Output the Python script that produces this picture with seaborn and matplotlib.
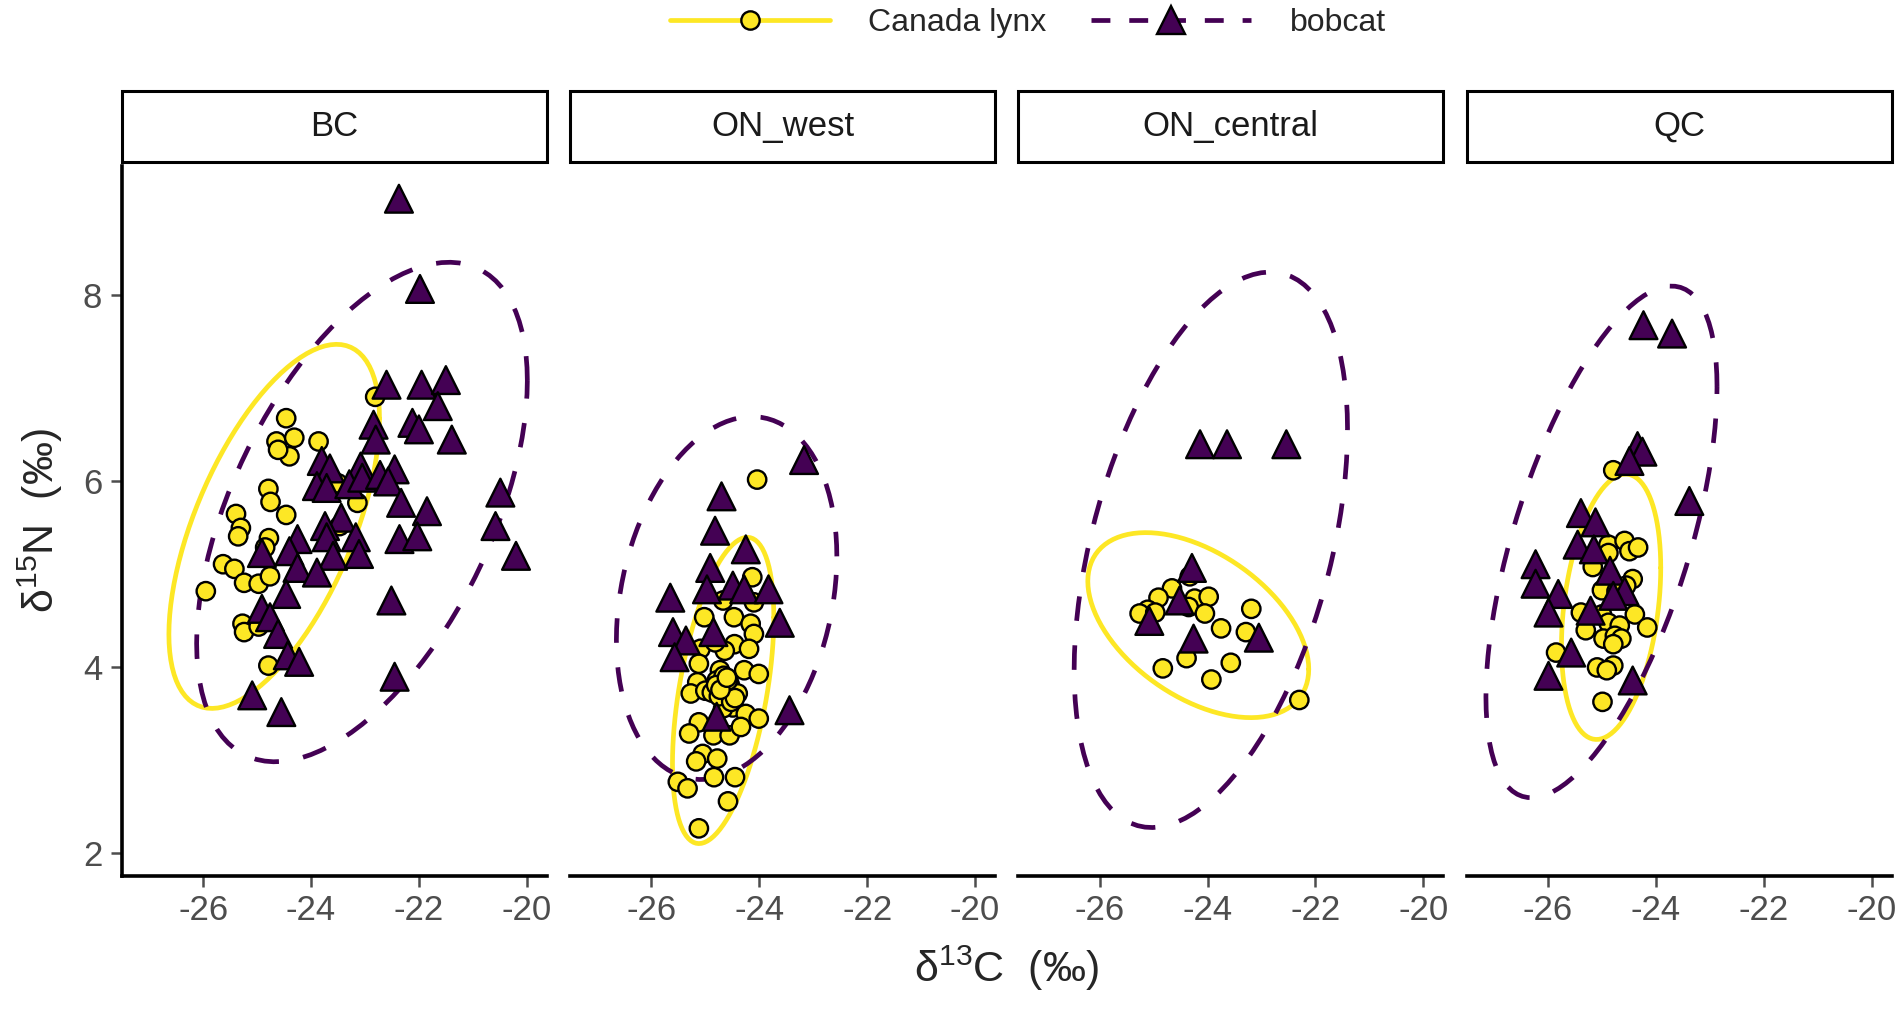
import numpy as np
import pandas as pd
import matplotlib
matplotlib.use('Agg')
import matplotlib.pyplot as plt
from matplotlib.lines import Line2D
from matplotlib.patches import Rectangle
import seaborn as sns

# ─── Data ───────────────────────────────────────────────────
REGIONS = ['BC', 'ON_west', 'ON_central', 'QC']
SPECIES = ['Canada lynx', 'bobcat']

bc_lynx_d13c = [-22.81, -24.46, -24.64, -24.31, -24.40, -23.86, -24.61, -24.79, -24.75, -24.46,
                -25.39, -25.30, -25.35, -24.78, -24.85, -23.14, -23.47, -25.63, -25.42, -25.24,
                -24.97, -24.76, -25.95, -25.27, -25.24, -24.97, -24.79, -23.50]
bc_lynx_d15n = [6.90, 6.67, 6.42, 6.46, 6.26, 6.42, 6.33, 5.91, 5.77, 5.63,
                5.64, 5.49, 5.40, 5.38, 5.28, 5.76, 5.51, 5.10, 5.05, 4.90,
                4.89, 4.97, 4.81, 4.46, 4.37, 4.43, 4.01, 5.97]
bc_bob_d13c = [-22.37, -21.98, -22.60, -21.95, -21.50, -21.65, -22.84, -22.12, -22.00, -21.39,
               -22.80, -23.80, -23.65, -23.89, -23.71, -23.08, -23.29, -23.05, -22.72, -22.45,
               -22.57, -22.33, -21.85, -23.44, -23.74, -23.71, -23.17, -24.25, -23.59, -23.11,
               -24.40, -24.91, -22.36, -22.03, -24.25, -23.89, -24.46, -24.91, -24.76, -24.61,
               -22.51, -24.43, -24.22, -22.45, -25.09, -24.55, -20.49, -20.58, -20.20]
bc_bob_d15n = [9.03, 8.06, 7.03, 7.03, 7.08, 6.80, 6.60, 6.62, 6.55, 6.44,
               6.44, 6.21, 6.13, 5.94, 5.92, 6.15, 5.96, 6.03, 6.06, 6.12,
               5.99, 5.76, 5.67, 5.60, 5.51, 5.39, 5.39, 5.37, 5.19, 5.21,
               5.24, 5.22, 5.37, 5.40, 5.06, 5.01, 4.78, 4.62, 4.53, 4.35,
               4.71, 4.12, 4.05, 3.89, 3.69, 3.51, 5.87, 5.51, 5.19]

onw_lynx_d13c = [-24.04, -24.13, -24.67, -24.10, -25.02, -24.47, -24.16, -24.10, -24.46, -24.64,
                 -24.19, -25.09, -24.82, -25.12, -24.73, -24.28, -24.01, -25.15, -25.27, -25.00,
                 -24.79, -24.55, -24.40, -24.64, -24.88, -24.49, -24.25, -24.01, -24.67, -25.12,
                 -25.30, -24.85, -24.55, -24.34, -25.05, -25.17, -24.78, -24.84, -24.45, -25.51,
                 -25.33, -24.58, -25.12, -24.70, -24.62, -24.75, -24.58, -24.52, -24.66, -24.45,
                 -24.80, -24.72, -24.60]
onw_lynx_d15n = [6.01, 4.96, 4.71, 4.69, 4.53, 4.53, 4.46, 4.35, 4.24, 4.17,
                 4.19, 4.19, 4.26, 4.03, 3.96, 3.96, 3.92, 3.83, 3.71, 3.74,
                 3.85, 3.81, 3.71, 3.67, 3.72, 3.56, 3.49, 3.44, 3.55, 3.40,
                 3.28, 3.26, 3.26, 3.35, 3.06, 2.98, 3.01, 2.81, 2.81, 2.76,
                 2.69, 2.55, 2.26, 3.78, 3.72, 3.68, 3.85, 3.62, 3.90, 3.66,
                 3.80, 3.75, 3.88]
onw_bob_d13c = [-25.65, -25.60, -25.36, -25.57, -24.70, -24.82, -24.25, -24.91, -24.97, -24.49,
                -24.28, -23.83, -23.62, -24.85, -24.79, -23.44, -23.17]
onw_bob_d15n = [4.74, 4.37, 4.28, 4.10, 5.83, 5.46, 5.26, 5.06, 4.83, 4.87,
                4.83, 4.83, 4.47, 4.37, 3.46, 3.53, 6.22]

onc_lynx_d13c = [-24.33, -24.66, -24.91, -25.11, -25.26, -24.97, -24.24, -23.98, -24.35, -24.05,
                 -23.75, -23.19, -23.29, -24.39, -24.83, -23.57, -23.93, -22.30]
onc_lynx_d15n = [4.97, 4.84, 4.74, 4.61, 4.57, 4.58, 4.73, 4.75, 4.64, 4.57,
                 4.41, 4.62, 4.37, 4.09, 3.98, 4.04, 3.86, 3.64]
onc_bob_d13c = [-24.14, -23.64, -22.54, -24.29, -24.52, -25.08, -24.26, -23.05]
onc_bob_d15n = [6.39, 6.39, 6.39, 5.06, 4.71, 4.49, 4.30, 4.31]

qc_lynx_d13c = [-24.79, -24.88, -24.58, -24.49, -24.33, -24.88, -25.17, -24.43, -25.00, -24.55,
                -24.73, -25.39, -25.00, -24.39, -25.30, -24.88, -24.67, -24.97, -24.76, -24.64,
                -24.79, -24.16, -25.85, -25.09, -24.79, -24.91, -24.99]
qc_lynx_d15n = [6.11, 5.31, 5.35, 5.24, 5.28, 5.22, 5.07, 4.94, 4.82, 4.87,
                4.81, 4.58, 4.56, 4.56, 4.39, 4.47, 4.44, 4.30, 4.33, 4.30,
                4.24, 4.42, 4.15, 3.99, 4.01, 3.96, 3.62]
qc_bob_d13c = [-24.23, -23.70, -24.34, -24.25, -24.49, -23.38, -25.39, -25.12, -25.45, -25.15,
               -26.23, -26.23, -25.81, -25.99, -24.85, -24.58, -24.79, -25.21, -25.57, -25.99,
               -24.43]
qc_bob_d15n = [7.67, 7.58, 6.37, 6.31, 6.21, 5.78, 5.65, 5.55, 5.31, 5.26,
               5.10, 4.89, 4.78, 4.58, 5.03, 4.81, 4.76, 4.60, 4.15, 3.90,
               3.85]

X_TICKS = [-26, -24, -22, -20]
Y_TICKS = [2, 4, 6, 8]

LYNX_COL = '#FDE725'
BOB_COL = '#440154'
PALETTE = {'Canada lynx': LYNX_COL, 'bobcat': BOB_COL}
MARKERS = {'Canada lynx': 'o', 'bobcat': '^'}
SIZES = {'Canada lynx': 175, 'bobcat': 400}
LINE_W = 3.4
DASH = (5.2, 5.2)

groups = {
    'BC':         [(bc_lynx_d13c, bc_lynx_d15n), (bc_bob_d13c, bc_bob_d15n)],
    'ON_west':    [(onw_lynx_d13c, onw_lynx_d15n), (onw_bob_d13c, onw_bob_d15n)],
    'ON_central': [(onc_lynx_d13c, onc_lynx_d15n), (onc_bob_d13c, onc_bob_d15n)],
    'QC':         [(qc_lynx_d13c, qc_lynx_d15n), (qc_bob_d13c, qc_bob_d15n)],
}

rows = []
for reg in REGIONS:
    for sp, (xs, ys) in zip(SPECIES, groups[reg]):
        for xv, yv in zip(xs, ys):
            rows.append({'region': reg, 'species': sp, 'd13C': xv, 'd15N': yv})
df = pd.DataFrame(rows)


# ─── stat_ellipse(type = "norm") equivalent ─────────────────
def norm_ellipse(xs, ys, level=0.95, segments=101):
    xy = np.column_stack([xs, ys])
    loc = xy.mean(axis=0)
    cov = np.cov(xy, rowvar=False)
    dfd = len(xs) - 1
    fq = dfd / 2 * ((1 - level) ** (-2 / dfd) - 1)   # qf(level, 2, dfd)
    radius = np.sqrt(2 * fq)
    ang = np.linspace(0, 2 * np.pi, segments)
    circle = np.column_stack([np.cos(ang), np.sin(ang)])
    return loc + radius * circle @ np.linalg.cholesky(cov).T


ellipses = {reg: [norm_ellipse(xs, ys) for xs, ys in groups[reg]] for reg in REGIONS}

all_x = np.concatenate([df['d13C'].values] + [e[:, 0] for r in REGIONS for e in ellipses[r]])
all_y = np.concatenate([df['d15N'].values] + [e[:, 1] for r in REGIONS for e in ellipses[r]])
xpad = 0.05 * (all_x.max() - all_x.min())
ypad = 0.05 * (all_y.max() - all_y.min())
xlim = (all_x.min() - xpad, all_x.max() + xpad)
ylim = (all_y.min() - ypad, all_y.max() + ypad)

# ─── Plot ───────────────────────────────────────────────────
sns.set_theme(style='white')
plt.rcParams['font.family'] = ['Liberation Sans', 'DejaVu Sans']
plt.rcParams['mathtext.fontset'] = 'custom'
plt.rcParams['mathtext.rm'] = 'Liberation Sans'
plt.rcParams['axes.unicode_minus'] = False

fig, axes = plt.subplots(1, 4, figsize=(19.02, 10.09), dpi=100, sharex=True, sharey=True)
fig.subplots_adjust(left=0.064, right=0.9945, bottom=0.132, top=0.835, wspace=0.055)

for i, (ax, reg) in enumerate(zip(axes, REGIONS)):
    for sp, ell in zip(SPECIES, ellipses[reg]):
        if sp == 'bobcat':
            ax.plot(ell[:, 0], ell[:, 1], color=BOB_COL, lw=LINE_W, dashes=DASH, zorder=2)
        else:
            ax.plot(ell[:, 0], ell[:, 1], color=LYNX_COL, lw=LINE_W, zorder=2)

    sns.scatterplot(data=df[df['region'] == reg], x='d13C', y='d15N',
                    hue='species', style='species', size='species',
                    hue_order=SPECIES, style_order=SPECIES, size_order=SPECIES,
                    palette=PALETTE, markers=MARKERS, sizes=SIZES,
                    edgecolor='black', linewidth=1.7, legend=False, ax=ax, zorder=3)

    ax.set_xlim(xlim); ax.set_ylim(ylim)
    ax.set_xticks(X_TICKS); ax.set_yticks(Y_TICKS)
    ax.set_xlabel(''); ax.set_ylabel('')
    ax.grid(False)
    for side in ['top', 'right']:
        ax.spines[side].set_visible(False)
    for side in ['bottom', 'left']:
        ax.spines[side].set_linewidth(2.6)
        ax.spines[side].set_color('black')
    ax.tick_params(axis='both', colors='#4D4D4D', labelsize=25, length=8, width=1.8,
                   bottom=True, left=True)
    ax.tick_params(axis='x', pad=5)
    ax.tick_params(axis='y', pad=6)
    if i > 0:
        ax.spines['left'].set_visible(False)
        ax.tick_params(axis='y', left=False, labelleft=False)

    # facet strip
    ax.add_patch(Rectangle((0, 1.007), 1, 0.099, transform=ax.transAxes, clip_on=False,
                           facecolor='white', edgecolor='black', lw=2.2))
    ax.text(0.5, 1.0565, reg, transform=ax.transAxes, ha='center', va='center',
            fontsize=25, color='#1A1A1A')

fig.text(0.529, 0.040, r'δ$^{13}$C  (‰)', ha='center', va='center', fontsize=31)
fig.text(0.021, 0.484, r'δ$^{15}$N  (‰)', ha='center', va='center', fontsize=31, rotation=90)

handles = [
    Line2D([0], [0], color=LYNX_COL, lw=LINE_W, marker='o', markersize=13.2,
           markerfacecolor=LYNX_COL, markeredgecolor='black', markeredgewidth=1.7),
    Line2D([0], [0], color=BOB_COL, lw=LINE_W, dashes=(4, 4), marker='^', markersize=20,
           markerfacecolor=BOB_COL, markeredgecolor='black', markeredgewidth=1.7),
]
fig.legend(handles, SPECIES, loc='center', bbox_to_anchor=(0.5405, 0.977), ncol=2,
           frameon=False, fontsize=23, handlelength=5.0, handletextpad=1.2,
           columnspacing=1.4)

plt.savefig('out.png', dpi=100)
plt.close()
